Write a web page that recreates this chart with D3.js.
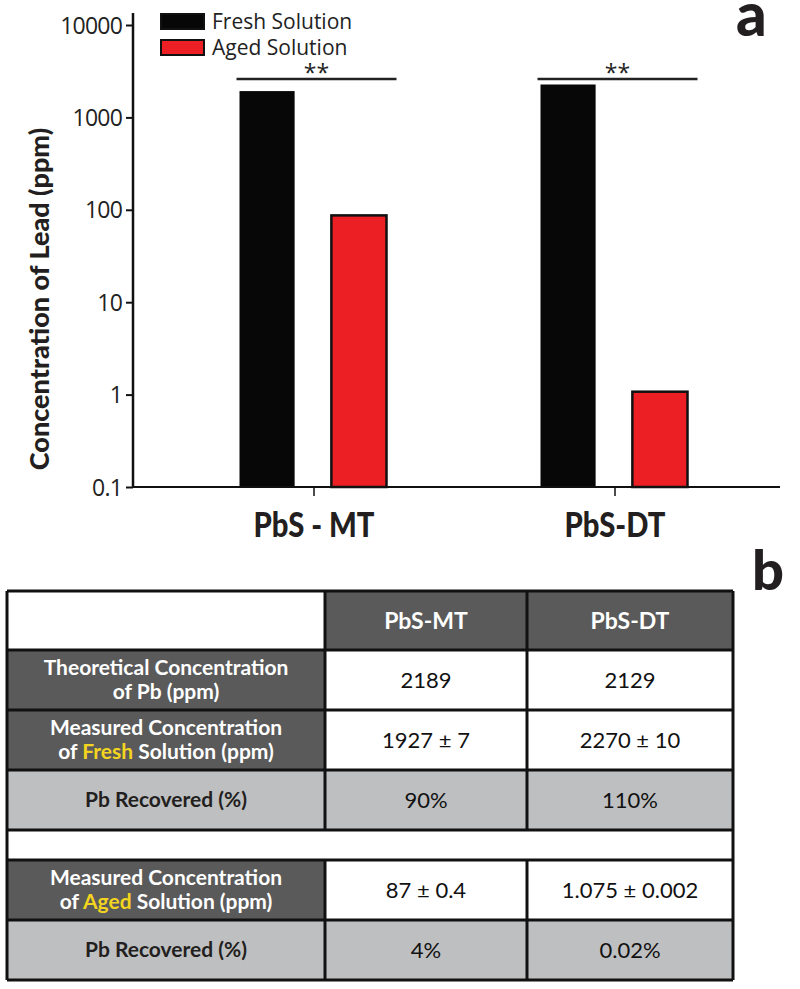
<!DOCTYPE html>
<html>
<head>
<meta charset="utf-8">
<script src="https://cdn.jsdelivr.net/npm/d3@7"></script>
<style>
  body { margin: 0; background: #fff; }
  svg { display: block; }
</style>
</head>
<body>
<div class="chart"></div>
<script>
// ---- data ----
var categories = ["PbS - MT", "PbS-DT"];
var seriesNames = ["Fresh Solution", "Aged Solution"];
var freshValues = [1927, 2270];
var agedValues = [87, 1.075];
var yTicks = [0.1, 1, 10, 100, 1000, 10000];
var yTickLabels = ["0.1", "1", "10", "100", "1000", "10000"];

// table
var tableCols = ["PbS-MT", "PbS-DT"];
var rowLabels = [
  ["Theoretical Concentration", "of Pb (ppm)"],
  ["Measured Concentration", "of Fresh Solution (ppm)"],
  ["Pb Recovered (%)"],
  [],
  ["Measured Concentration", "of Aged Solution (ppm)"],
  ["Pb Recovered (%)"]
];
var highlightWords = [null, "Fresh", null, null, "Aged", null];
var mtValues = ["2189", "1927 \u00b1 7", "90%", "", "87 \u00b1 0.4", "4%"];
var dtValues = ["2129", "2270 \u00b1 10", "110%", "", "1.075 \u00b1 0.002", "0.02%"];
var rowKinds = ["dark", "dark", "light", "blank", "dark", "light"];

var W = 800, H = 989;
var svg = d3.select("div.chart").append("svg")
    .attr("width", W).attr("height", H);

var axisFont = "'Open Sans', sans-serif";
var boldFont = "Lato, sans-serif";

// ---- panel a ----
var x0 = 133, x1 = 780, yBottom = 487, yTop = 25;

var y = d3.scaleLog().domain([0.1, 10000]).range([yBottom, yTop]);

var xGroup = d3.scaleBand().domain(categories).range([163.5, 765.5]).paddingInner(0).paddingOuter(0);
var xInner = d3.scaleBand().domain(seriesNames).range([76, 223]).paddingInner(0.4).paddingOuter(0);

var colors = {"Fresh Solution": "#070707", "Aged Solution": "#ec2024"};

var barData = [];
categories.forEach(function(c, i){
  barData.push({cat: c, series: "Fresh Solution", v: freshValues[i]});
  barData.push({cat: c, series: "Aged Solution", v: agedValues[i]});
});

svg.selectAll(".bar")
  .data(barData)
  .enter()
  .append("rect")
    .attr("class", "bar")
    .attr("x", function(d){ return xGroup(d.cat) + xInner(d.series); })
    .attr("width", xInner.bandwidth())
    .attr("y", function(d){ return y(d.v); })
    .attr("height", function(d){ return yBottom - y(d.v); })
    .attr("fill", function(d){ return colors[d.series]; })
    .attr("stroke", function(d){ return d.series == "Aged Solution" ? "#111" : "none"; })
    .attr("stroke-width", 2.5);

// y axis
var yAxis = d3.axisLeft(y)
    .tickValues(yTicks)
    .tickFormat(function(d, i){ return yTickLabels[i]; })
    .tickSize(7)
    .tickPadding(4);

var gy = svg.append("g")
    .attr("transform", "translate(" + x0 + ",0)")
    .call(yAxis);
gy.select(".domain").remove();
gy.selectAll(".tick line").attr("stroke", "#111").attr("stroke-width", 2);
gy.selectAll(".tick text")
    .attr("font-family", axisFont)
    .attr("font-size", 23)
    .attr("fill", "#222")
    .attr("dy", "0.35em")
    .attr("letter-spacing", "-0.8px");

svg.append("line")
    .attr("x1", x0).attr("x2", x0)
    .attr("y1", yTop - 12).attr("y2", yBottom + 1)
    .attr("stroke", "#111").attr("stroke-width", 2.5);

// x axis
var xAxis = d3.axisBottom(xGroup).tickSize(9).tickFormat("");
var gx = svg.append("g")
    .attr("transform", "translate(0," + yBottom + ")")
    .call(xAxis);
gx.select(".domain").remove();
gx.selectAll(".tick line").attr("stroke", "#111").attr("stroke-width", 1.5);

svg.append("line")
    .attr("x1", x0 - 1).attr("x2", x1)
    .attr("y1", yBottom).attr("y2", yBottom)
    .attr("stroke", "#111").attr("stroke-width", 2);

svg.selectAll(".catlabel")
  .data(categories)
  .enter()
  .append("text")
    .attr("transform", function(d){
      return "translate(" + (xGroup(d) + xGroup.bandwidth() / 2) + ",537) scale(0.86,1)";
    })
    .attr("text-anchor", "middle")
    .attr("font-family", boldFont)
    .attr("font-weight", 900)
    .attr("font-size", 34)
    .attr("fill", "#231f20")
    .text(function(d){ return d; });

// y label
svg.append("text")
    .attr("transform", "translate(49,299) rotate(-90)")
    .attr("text-anchor", "middle")
    .attr("font-family", boldFont)
    .attr("font-weight", 900)
    .attr("font-size", 27)
    .attr("fill", "#231f20")
    .text("Concentration of Lead (ppm)");

// significance brackets
categories.forEach(function(c){
  var sx1 = xGroup(c) + xInner("Fresh Solution") - 3;
  var sx2 = xGroup(c) + xInner("Aged Solution") + xInner.bandwidth() + 10;
  svg.append("line")
      .attr("x1", sx1).attr("x2", sx2)
      .attr("y1", 79).attr("y2", 79)
      .attr("stroke", "#222").attr("stroke-width", 2.5);
  svg.append("text")
      .attr("x", (sx1 + sx2) / 2)
      .attr("y", 81)
      .attr("text-anchor", "middle")
      .attr("font-family", axisFont)
      .attr("font-size", 23)
      .attr("fill", "#222")
      .text("**");
});

// legend
var legend = svg.selectAll(".legend")
  .data(seriesNames)
  .enter()
  .append("g")
    .attr("transform", function(d, i){ return "translate(161," + (14 + i * 26) + ")"; });
legend.append("rect")
    .attr("width", 43).attr("height", 15)
    .attr("fill", function(d){ return colors[d]; })
    .attr("stroke", "#111").attr("stroke-width", 2);
legend.append("text")
    .attr("x", 51).attr("y", 15)
    .attr("font-family", axisFont)
    .attr("font-size", 21)
    .attr("fill", "#222")
    .text(function(d){ return d; });

// panel letters
svg.append("text")
    .attr("x", 736).attr("y", 36)
    .attr("font-family", boldFont).attr("font-weight", 900)
    .attr("font-size", 60).attr("fill", "#231f20")
    .text("a");
svg.append("text")
    .attr("x", 752).attr("y", 590)
    .attr("font-family", boldFont).attr("font-weight", 900)
    .attr("font-size", 56).attr("fill", "#231f20")
    .text("b");

// ---- panel b: table ----
var tLeft = 7, tRight = 733, tTop = 591;
var colEdges = [tLeft, 325, 527, tRight];
var rowHeights = [59, 60, 60, 60, 30, 60, 60];
var rowEdges = [tTop];
rowHeights.forEach(function(h){ rowEdges.push(rowEdges[rowEdges.length - 1] + h); });

var darkGray = "#5a5a5a", lightGray = "#bebfc1", yellow = "#f3d41e";
var tableFont = "Lato, sans-serif";

// header row
var g = svg.append("g");
g.append("rect").attr("x", colEdges[0]).attr("y", rowEdges[0])
  .attr("width", colEdges[1] - colEdges[0]).attr("height", rowHeights[0]).attr("fill", "#fff");
tableCols.forEach(function(c, j){
  g.append("rect").attr("x", colEdges[j + 1]).attr("y", rowEdges[0])
    .attr("width", colEdges[j + 2] - colEdges[j + 1]).attr("height", rowHeights[0]).attr("fill", darkGray);
  g.append("text")
    .attr("x", (colEdges[j + 1] + colEdges[j + 2]) / 2)
    .attr("y", rowEdges[0] + rowHeights[0] / 2 + 8)
    .attr("text-anchor", "middle")
    .attr("font-family", tableFont).attr("font-weight", 700)
    .attr("font-size", 23).attr("fill", "#fff")
    .text(c);
});

rowKinds.forEach(function(kind, i){
  var top = rowEdges[i + 1], h = rowHeights[i + 1], mid = top + h / 2;
  if (kind == "blank") {
    g.append("rect").attr("x", tLeft).attr("y", top).attr("width", tRight - tLeft).attr("height", h).attr("fill", "#fff");
    return;
  }
  var labelFill = kind == "dark" ? darkGray : lightGray;
  var valFill = kind == "dark" ? "#fff" : lightGray;
  g.append("rect").attr("x", colEdges[0]).attr("y", top)
    .attr("width", colEdges[1] - colEdges[0]).attr("height", h).attr("fill", labelFill);
  [mtValues[i], dtValues[i]].forEach(function(v, j){
    g.append("rect").attr("x", colEdges[j + 1]).attr("y", top)
      .attr("width", colEdges[j + 2] - colEdges[j + 1]).attr("height", h).attr("fill", valFill);
    g.append("text")
      .attr("x", (colEdges[j + 1] + colEdges[j + 2]) / 2)
      .attr("y", mid + 8)
      .attr("text-anchor", "middle")
      .attr("font-family", tableFont)
      .attr("font-size", 22).attr("fill", "#111")
      .text(v);
  });
  var lines = rowLabels[i];
  var t = g.append("text")
      .attr("text-anchor", "middle")
      .attr("font-family", tableFont).attr("font-weight", 700)
      .attr("font-size", 21)
      .attr("fill", kind == "dark" ? "#fff" : "#231f20");
  lines.forEach(function(line, k){
    var ly = mid + 7 + (k - (lines.length - 1) / 2) * 24;
    var hw = highlightWords[i];
    if (hw && line.indexOf(hw) >= 0) {
      var parts = line.split(hw);
      var tl = t.append("tspan").attr("x", (colEdges[0] + colEdges[1]) / 2).attr("y", ly);
      tl.append("tspan").text(parts[0]);
      tl.append("tspan").attr("fill", yellow).text(hw);
      tl.append("tspan").text(parts[1]);
    } else {
      t.append("tspan").attr("x", (colEdges[0] + colEdges[1]) / 2).attr("y", ly).text(line);
    }
  });
});

// grid lines
var lw = 3;
rowEdges.forEach(function(ry){
  g.append("line").attr("x1", tLeft).attr("x2", tRight).attr("y1", ry).attr("y2", ry)
    .attr("stroke", "#111").attr("stroke-width", lw);
});
colEdges.forEach(function(cx, j){
  if (j == 0 || j == colEdges.length - 1) {
    g.append("line").attr("x1", cx).attr("x2", cx).attr("y1", tTop).attr("y2", rowEdges[rowEdges.length - 1])
      .attr("stroke", "#111").attr("stroke-width", lw);
  } else {
    // inner dividers skip the blank row
    [[rowEdges[0], rowEdges[4]], [rowEdges[5], rowEdges[7]]].forEach(function(seg){
      g.append("line").attr("x1", cx).attr("x2", cx).attr("y1", seg[0]).attr("y2", seg[1])
        .attr("stroke", "#111").attr("stroke-width", lw);
    });
  }
});
</script>
</body>
</html>
